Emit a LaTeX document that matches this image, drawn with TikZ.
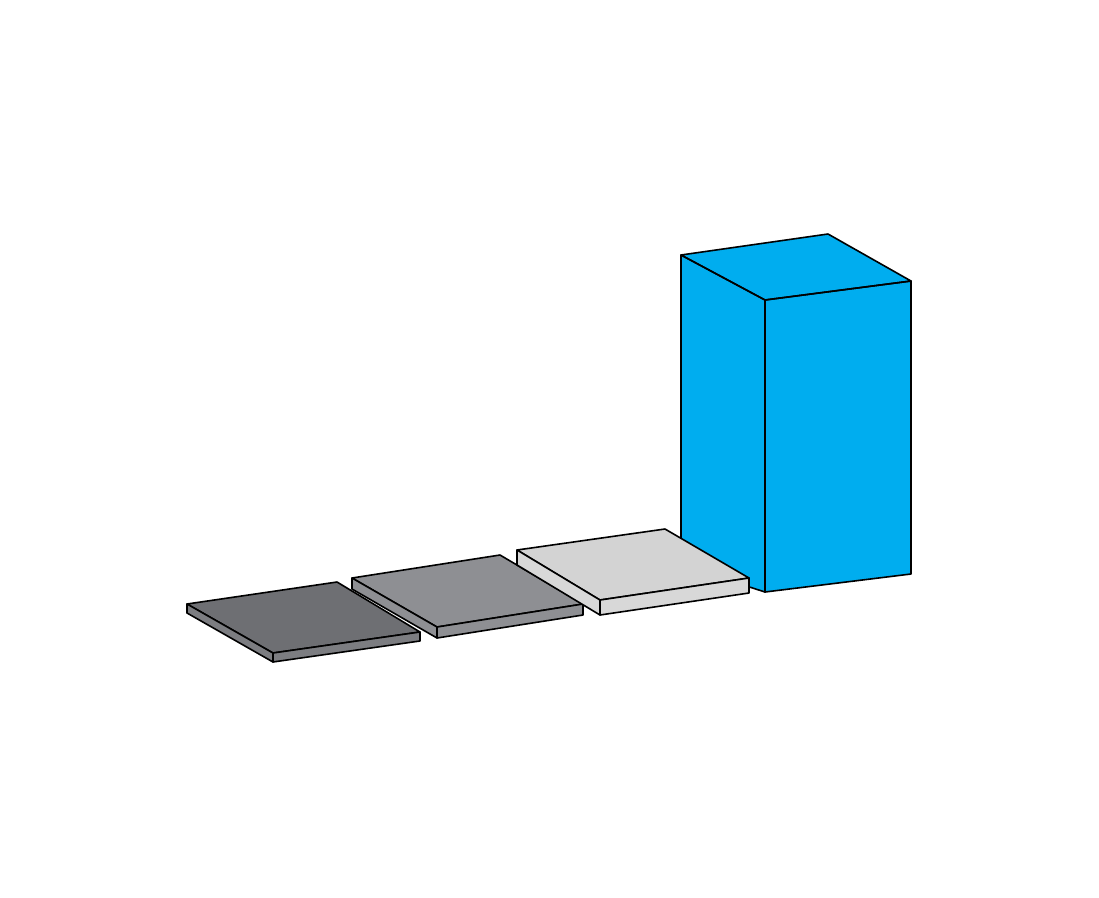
\documentclass[tikz,border=0pt]{standalone}
\begin{document}
\begin{tikzpicture}[x=1pt,y=-1pt,line join=round,
  edge/.style={draw=black,line width=1.6pt}]
\useasboundingbox[fill=white] (0,0) rectangle (1099,897);
% cyan box
\fill[cyan!100] (681,255)--(828,234)--(911,281)--(911,574)--(765,592)--(681,565)--cycle;
\draw[edge] (681,255)--(828,234)--(911,281)--(765,300)--cycle;
\draw[edge] (765,300)--(911,281)--(911,574)--(765,592)--cycle;
\draw[edge] (681,255)--(765,300)--(765,592)--(681,565)--cycle;
% tiles
\newcommand{\tile}[9]{%
  % #1,#2 left; #3,#4 back; #5,#6 right; #7,#8 front; #9 thickness
  \filldraw[edge,fill=tiletop] (#1,#2)--(#3,#4)--(#5,#6)--(#7,#8)--cycle;
  \filldraw[edge,fill=tileside] (#1,#2)--(#7,#8)--(#7,#8+#9)--(#1,#2+#9)--cycle;
  \filldraw[edge,fill=tileside] (#7,#8)--(#5,#6)--(#5,#6+#9)--(#7,#8+#9)--cycle;}
\colorlet{tiletop}{black!55!white}\colorlet{tileside}{black!50!white}
\definecolor{tiletop}{HTML}{6E6F73}\definecolor{tileside}{HTML}{7C7D81}
\tile{187}{604}{337}{582}{420}{632}{273}{653}{9}
\definecolor{tiletop}{HTML}{8E8F93}\definecolor{tileside}{HTML}{8E8F93}
\tile{352}{578}{500}{555}{583}{604}{437}{627}{11}
\definecolor{tiletop}{HTML}{D3D3D3}\definecolor{tileside}{HTML}{D8D8D8}
\tile{517}{550}{665}{529}{749}{578}{600}{600}{15}
\end{tikzpicture}
\end{document}
